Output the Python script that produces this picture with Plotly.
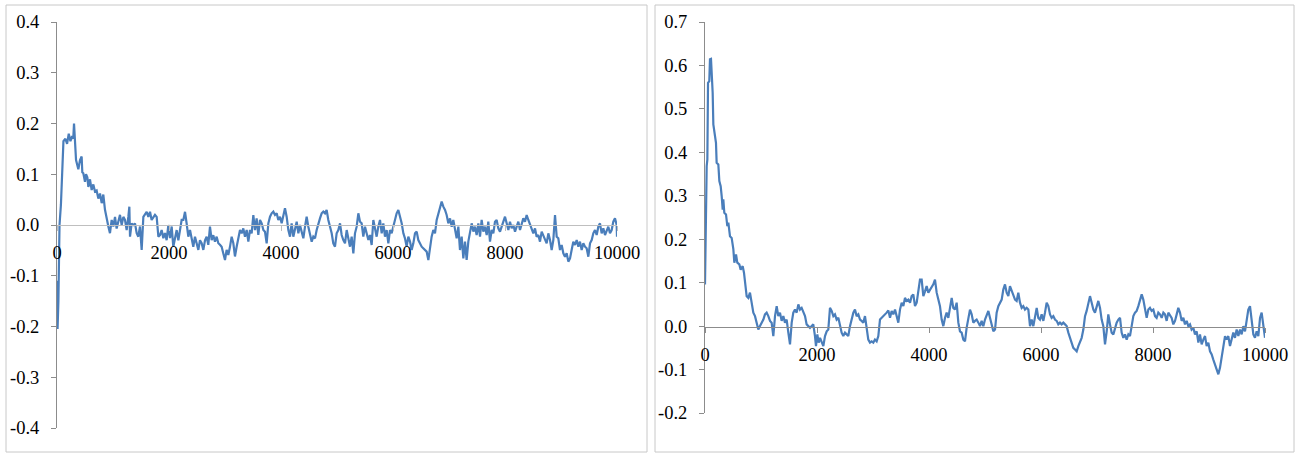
import plotly.graph_objects as go

# ---------------- data ----------------
LEFT_X = [0, 10, 25, 45, 70, 90, 115, 150, 180, 210, 240, 270, 290, 304, 320, 340, 381, 411, 440, 452,
          470, 500, 518, 542, 560, 589, 619, 649, 678, 708, 738, 768, 798, 827, 857, 887, 917, 946, 976, 1006,
          1036, 1065, 1095, 1125, 1155, 1185, 1214, 1244, 1274, 1292, 1304, 1333, 1363, 1393, 1423, 1452, 1482, 1512, 1542, 1571,
          1601, 1631, 1661, 1690, 1720, 1750, 1780, 1810, 1839, 1869, 1899, 1928, 1958, 1988, 2018, 2048, 2077, 2107, 2137, 2167,
          2196, 2226, 2256, 2286, 2315, 2345, 2375, 2405, 2434, 2464, 2494, 2524, 2553, 2583, 2613, 2643, 2672, 2702, 2732, 2762,
          2791, 2821, 2851, 2881, 2910, 2940, 2970, 3000, 3029, 3059, 3089, 3119, 3149, 3178, 3208, 3238,
          3268, 3298, 3327, 3357, 3387, 3417, 3446, 3476, 3506, 3536, 3565, 3595, 3625, 3655, 3685, 3714, 3744, 3774, 3804, 3833,
          3863, 3893, 3923, 3952, 3982, 4012, 4042, 4071, 4101, 4131, 4161, 4190, 4220, 4250, 4280, 4310, 4339, 4369, 4399, 4429,
          4458, 4488, 4518, 4548, 4577, 4607, 4637, 4667, 4696, 4726, 4756, 4786, 4815, 4845, 4875, 4905, 4934, 4964, 4994, 5024,
          5054, 5083, 5113, 5143, 5173, 5202, 5232, 5262, 5292, 5321, 5351, 5381, 5411, 5440, 5470, 5500, 5530, 5560, 5589, 5619,
          5649, 5679, 5708, 5738, 5768, 5798, 5827, 5857, 5887, 5917, 5946, 5976, 6006, 6036, 6065, 6095, 6125, 6155, 6185, 6214,
          6244, 6274, 6304, 6333, 6363, 6393, 6423, 6452, 6512, 6571,
          6601, 6631, 6661, 6690, 6720, 6750, 6780, 6810, 6839, 6869, 6899, 6929, 6958, 6988, 7018, 7048, 7077, 7107, 7137, 7167,
          7196, 7226, 7256, 7286, 7315, 7345, 7375, 7405, 7435, 7464, 7494, 7524, 7554, 7583, 7613, 7643, 7673, 7702, 7732, 7762,
          7792, 7821, 7851, 7881, 7911, 7940, 7970, 8000, 8030, 8060, 8089, 8119, 8149, 8179, 8208, 8238, 8268, 8298, 8327, 8357,
          8387, 8417, 8446, 8476, 8506, 8536, 8565, 8595, 8625, 8655, 8684, 8714, 8744, 8774, 8804, 8833, 8863, 8893, 8923, 8952,
          8982, 9012, 9042, 9071, 9101, 9131, 9161, 9190, 9220, 9250, 9280, 9310, 9339, 9369, 9399, 9429, 9458, 9488, 9518, 9548,
          9577, 9607, 9637, 9667, 9696, 9726, 9756, 9786, 9815, 9845, 9875, 9905, 9934, 9964, 9994, 10000]
LEFT_Y = [-0.11, -0.205, -0.15, 0.0, 0.04, 0.11, 0.165, 0.17, 0.16, 0.18, 0.165, 0.175, 0.17, 0.2, 0.16, 0.128, 0.11, 0.128, 0.135, 0.104,
          0.102, 0.085, 0.1, 0.094, 0.075, 0.09, 0.069, 0.08, 0.066, 0.068, 0.052, 0.062, 0.043, 0.06, 0.03, 0.01, -0.003, -0.016, 0.01, -0.003,
          0.016, -0.007, 0.01, 0.02, 0.0, 0.016, 0.01, -0.01, 0.016, 0.036, -0.023, 0.003, 0.0, 0.003, -0.016, -0.023, -0.003, -0.049, 0.016, 0.02,
          0.026, 0.016, 0.026, 0.01, 0.016, 0.02, 0.016, -0.023, -0.02, -0.01, -0.026, -0.016, -0.03, 0.0, -0.026, -0.003, -0.043, -0.023, -0.01, -0.03,
          -0.01, 0.01, 0.01, 0.026, 0.003, -0.023, -0.01, -0.03, -0.043, -0.023, -0.036, -0.049, -0.03, -0.036, -0.049, -0.03, -0.023, -0.039, -0.003, -0.03,
          -0.02, -0.033, -0.023, -0.036, -0.039, -0.043, -0.056, -0.069, -0.049, -0.059, -0.043, -0.023, -0.036, -0.062, -0.043, -0.023,
          -0.0099, -0.0164, -0.0066, -0.023, -0.0099, -0.0328, -0.0099, -0.0164, 0.0197, -0.0099, 0.0131, -0.0197, 0.0099, 0.0033, -0.0099, -0.0131, -0.0361, 0.0033, 0.0164, 0.023,
          0.0263, 0.0197, 0.023, 0.0099, 0.0164, 0.0033, 0.0164, 0.0329, 0.0164, -0.0099, -0.023, 0.0033, -0.023, -0.0099, 0.0066, -0.0164, 0.0, -0.0131, -0.0263, -0.0033,
          0.0164, -0.0033, -0.0164, -0.0328, -0.023, -0.0263, -0.0099, 0.0033, 0.0131, 0.023, 0.0263, 0.023, 0.0296, 0.0099, -0.0033, -0.0164, -0.0361, -0.0427, -0.0164, -0.0099,
          0.0033, -0.0197, -0.0296, -0.0361, -0.0099, -0.023, -0.0427, -0.023, -0.0558, -0.0164, -0.0033, 0.023, 0.0066, 0.0033, -0.023, -0.0033, -0.0164, -0.0296, -0.0197, -0.0394,
          0.0099, -0.0099, -0.023, -0.0033, 0.0099, -0.0164, 0.0033, -0.023, -0.0099, -0.0361, -0.0099, -0.0164, -0.0033, 0.0099, 0.023, 0.0296, 0.0164, 0.0033, -0.0164, -0.0263,
          -0.0427, -0.023, -0.0328, -0.0493, -0.0361, -0.0164, -0.0131, -0.0296, -0.0427, -0.0493,
          -0.0525, -0.069, -0.0427, -0.023, -0.0099, -0.0164, 0.0099, 0.023, 0.0329, 0.046, 0.0361, 0.0296, 0.0197, 0.0033, 0.0131, -0.0033, 0.0099, -0.0099, -0.0263, -0.0033,
          -0.0493, -0.023, -0.0657, -0.0328, -0.069, -0.0328, -0.0099, 0.0033, -0.0131, -0.0033, -0.0197, 0.0033, -0.023, 0.0099, -0.0131, -0.0033, -0.0197, 0.0066, -0.0328, -0.0099,
          -0.0164, 0.0066, 0.0099, -0.0066, -0.0131, -0.0033, 0.0033, 0.0164, 0.0033, -0.0099, 0.0066, -0.0066, 0.0, -0.0131, -0.0033, 0.0066, -0.0099, 0.0, 0.0131, 0.0066,
          0.0197, 0.0099, 0.0, -0.0066, -0.0164, -0.0066, -0.023, -0.0197, -0.0328, -0.0131, -0.0197, -0.0263, -0.0361, -0.0164, -0.0296, -0.0493, -0.0296, 0.0197, -0.023, -0.0263,
          -0.0493, -0.0394, -0.0558, -0.0624, -0.0558, -0.0722, -0.0657, -0.0493, -0.0328, -0.0394, -0.0296, -0.0427, -0.0328, -0.0493, -0.0361, -0.0427, -0.046, -0.0624, -0.0361, -0.0296,
          -0.0164, -0.0099, -0.0197, -0.0033, 0.0033, -0.0164, -0.0066, -0.0197, -0.0099, -0.0033, -0.0164, -0.0099, 0.0066, 0.0131, 0.0, -0.023]

RIGHT_X = [0, 18, 30, 42, 54, 77, 89, 107, 119, 137, 149, 179, 196, 208, 238, 256, 280, 298, 316, 327,
           345, 375, 399, 417, 446, 476, 506, 524, 554, 577, 613, 637, 673, 696, 714, 744, 774, 803, 833, 863,
           893, 922, 952, 982, 1012, 1042, 1071, 1101, 1131, 1161, 1190, 1220, 1250, 1280, 1309, 1339, 1369, 1399, 1428, 1458,
           1488, 1518, 1548, 1577, 1607, 1637, 1667, 1696, 1726, 1756, 1786, 1815, 1845, 1875, 1905, 1934, 1964, 1982, 2006, 2030,
           2054, 2083, 2113, 2143, 2173, 2202, 2232, 2262, 2292, 2321, 2351, 2381, 2411, 2440, 2470, 2500, 2530, 2559, 2589, 2619,
           2649, 2678, 2708, 2738, 2768, 2797, 2827, 2857, 2887, 2916, 2946, 2976, 3006, 3035, 3065, 3095, 3125, 3155, 3185, 3214,
           3244, 3274, 3304, 3333, 3363, 3393, 3423, 3452, 3482, 3512, 3542, 3571, 3601, 3631, 3661, 3690, 3720, 3750, 3780, 3810,
           3839, 3869, 3899, 3929, 3958, 3988, 4018, 4048, 4077, 4107, 4137, 4167, 4196, 4226, 4256, 4286, 4315, 4345, 4375, 4405,
           4434, 4464, 4494, 4524, 4553, 4583, 4613, 4643, 4672, 4702, 4732, 4762, 4791, 4821, 4851, 4881, 4911, 4940, 4970, 5000,
           5030, 5060, 5089, 5119, 5149, 5179, 5208, 5238, 5268, 5298, 5327, 5357, 5387, 5417, 5446, 5476, 5506, 5536, 5565, 5595,
           5625, 5655, 5684, 5714, 5744, 5774, 5804, 5833, 5863, 5893, 5923, 5952, 5982, 6012, 6042, 6071, 6101, 6131, 6161, 6190,
           6220, 6250, 6280, 6309, 6339, 6369, 6399, 6429, 6458, 6488, 6518, 6548, 6577, 6607, 6637, 6667, 6696, 6726, 6756, 6786,
           6815, 6845, 6875, 6905, 6935, 6964, 6994, 7024, 7054, 7083, 7113, 7143, 7173, 7202, 7232, 7262, 7292, 7321, 7351, 7381,
           7411, 7440, 7470, 7500, 7530, 7560, 7589, 7619, 7649, 7679, 7708, 7738, 7768, 7798, 7827, 7857, 7887, 7917, 7946, 7976,
           8006, 8036, 8065, 8095, 8125, 8155, 8185, 8214, 8244, 8274, 8304, 8333, 8363, 8393, 8423, 8452, 8482, 8512, 8542, 8571,
           8601, 8631, 8661, 8690, 8720, 8750, 8780, 8810, 8839, 8869, 8899, 8929, 8958, 8988, 9018, 9048, 9077, 9107, 9137, 9167,
           9196, 9226, 9256, 9286, 9315, 9345, 9375, 9405, 9434, 9464, 9494, 9524, 9554, 9583, 9613, 9643, 9673, 9702, 9732, 9762,
           9792, 9821, 9851, 9881, 9911, 9940, 9970, 10000]
RIGHT_Y = [0.096, 0.292, 0.368, 0.383, 0.56, 0.564, 0.614, 0.615, 0.591, 0.537, 0.464, 0.437, 0.422, 0.376, 0.372, 0.334, 0.322, 0.299, 0.268, 0.292,
           0.261, 0.257, 0.23, 0.238, 0.207, 0.203, 0.177, 0.146, 0.165, 0.146, 0.142, 0.13, 0.138, 0.123, 0.107, 0.069, 0.065, 0.077, 0.054, 0.031,
           0.023, 0.008, -0.008, 0.0, 0.008, 0.015, 0.027, 0.031, 0.023, 0.012, 0.008, -0.023, 0.023, 0.046, 0.023, 0.031, 0.012, 0.023, 0.008, 0.015,
           -0.015, -0.042, 0.008, 0.031, 0.038, 0.031, 0.05, 0.038, 0.042, 0.031, 0.023, 0.004, 0.0, -0.004, 0.0, 0.004, -0.023, -0.046, -0.019, -0.038,
           -0.027, -0.035, -0.046, -0.023, -0.012, -0.008, 0.042, 0.035, 0.023, 0.027, 0.015, 0.019, 0.0, -0.015, -0.023, -0.015, -0.019, -0.023, 0.0, 0.019,
           0.031, 0.038, 0.023, 0.027, 0.015, 0.012, 0.008, 0.023, -0.008, -0.031, -0.038, -0.035, -0.038, -0.031, -0.035, -0.023, 0.015, 0.019, 0.023, 0.025,
           0.031, 0.036, 0.019, 0.035, 0.027, 0.038, 0.023, 0.008, 0.038, 0.054, 0.046, 0.065, 0.058, 0.061, 0.054, 0.069, 0.073, 0.046, 0.054, 0.084,
           0.107, 0.107, 0.069, 0.08, 0.092, 0.077, 0.084, 0.092, 0.096, 0.107, 0.077, 0.061, 0.046, 0.015, 0.0, 0.019, 0.031, 0.019, 0.046, 0.065,
           0.042, 0.038, 0.054, 0.008, -0.012, -0.015, -0.031, -0.035, -0.004, 0.019, 0.038, 0.027, 0.008, 0.012, 0.015, 0.008, 0.0, 0.012, 0.0, 0.015,
           0.027, 0.035, 0.019, 0.004, -0.012, -0.008, 0.031, 0.046, 0.054, 0.061, 0.084, 0.096, 0.077, 0.069, 0.092, 0.08, 0.073, 0.061, 0.058, 0.077,
           0.054, 0.042, 0.046, 0.038, 0.042, 0.038, 0.0, 0.015, 0.0, 0.027, 0.042, 0.019, 0.015, 0.027, 0.012, 0.031, 0.054, 0.046, 0.027, 0.019,
           0.023, 0.015, 0.012, 0.004, 0.008, 0.004, 0.008, 0.004, 0.0, -0.015, -0.027, -0.035, -0.05, -0.054, -0.058, -0.046, -0.038, -0.027, -0.008, 0.023,
           0.035, 0.054, 0.069, 0.054, 0.038, 0.031, 0.046, 0.058, 0.042, 0.015, 0.0, -0.042, -0.012, 0.027, 0.004, -0.015, -0.019, -0.004, 0.008, 0.015,
           0.019, -0.015, -0.027, -0.019, -0.031, -0.019, -0.023, 0.0, 0.023, 0.031, 0.035, 0.046, 0.061, 0.073, 0.061, 0.038, 0.019, 0.038, 0.042, 0.035,
           0.038, 0.023, 0.019, 0.031, 0.027, 0.019, 0.031, 0.027, 0.012, 0.031, 0.023, 0.019, 0.004, 0.012, 0.027, 0.042, 0.031, 0.012, 0.019, 0.004,
           0.012, 0.0, 0.004, -0.008, -0.004, -0.019, -0.012, -0.038, -0.019, -0.042, -0.031, -0.023, -0.046, -0.038, -0.058, -0.065, -0.077, -0.088, -0.1, -0.111,
           -0.096, -0.073, -0.046, -0.023, -0.031, -0.023, -0.046, -0.031, -0.015, -0.027, -0.008, -0.023, -0.008, -0.019, 0.0, -0.012, 0.015, 0.038, 0.046, 0.019,
           -0.019, -0.027, -0.012, -0.023, 0.019, 0.031, 0.0, -0.027]

X_TICKS = [0, 2000, 4000, 6000, 8000, 10000]
X_TICK_TEXT = ["0", "2000", "4000", "6000", "8000", "10000"]
LEFT_Y_TICKS = [-0.4, -0.3, -0.2, -0.1, 0.0, 0.1, 0.2, 0.3, 0.4]
LEFT_Y_TEXT = ["-0.4", "-0.3", "-0.2", "-0.1", "0.0", "0.1", "0.2", "0.3", "0.4"]
RIGHT_Y_TICKS = [-0.2, -0.1, 0.0, 0.1, 0.2, 0.3, 0.4, 0.5, 0.6, 0.7]
RIGHT_Y_TEXT = ["-0.2", "-0.1", "0.0", "0.1", "0.2", "0.3", "0.4", "0.5", "0.6", "0.7"]

# ---------------- layout ----------------
W, H = 1309, 453
LINE_COLOR = "#4a7ebb"
FONT = dict(family="Liberation Serif, Times New Roman, serif", size=18.5, color="#000000")


def px_x(p):
    return p / W


def px_y(p):
    return 1 - p / H


fig = go.Figure()
fig.add_trace(go.Scatter(x=LEFT_X, y=LEFT_Y, mode="lines", line=dict(color=LINE_COLOR, width=2.2),
                         xaxis="x", yaxis="y", showlegend=False, hoverinfo="skip"))
fig.add_trace(go.Scatter(x=RIGHT_X, y=RIGHT_Y, mode="lines", line=dict(color=LINE_COLOR, width=2.2),
                         xaxis="x2", yaxis="y2", showlegend=False, hoverinfo="skip"))

common_x = dict(range=[0, 10000], tickvals=X_TICKS, ticktext=X_TICK_TEXT, showgrid=False, zeroline=False,
                showline=True, ticks="outside", ticklen=5, tickfont=FONT, anchor="free", ticklabelstandoff=6,
                automargin=False)
common_y = dict(showgrid=False, zeroline=False, showline=True, ticks="outside", ticklen=5,
                tickfont=FONT, ticklabelstandoff=8, linecolor="#8c8c8c", tickcolor="#8c8c8c", linewidth=1,
                automargin=False)

fig.update_layout(
    width=W, height=H, margin=dict(l=0, r=0, t=0, b=0, autoexpand=False),
    paper_bgcolor="white", plot_bgcolor="rgba(0,0,0,0)", font=FONT,
    xaxis=dict(domain=[px_x(57), px_x(617)], position=px_y(225), linecolor="#bfbfbf", tickcolor="#bfbfbf",
               **common_x),
    yaxis=dict(domain=[px_y(428), px_y(22)], range=[-0.4, 0.4], tickvals=LEFT_Y_TICKS, ticktext=LEFT_Y_TEXT,
               anchor="x", **common_y),
    xaxis2=dict(domain=[px_x(705), px_x(1265)], position=px_y(326.6), linecolor="#8c8c8c", tickcolor="#8c8c8c",
                **common_x),
    yaxis2=dict(domain=[px_y(413), px_y(22)], range=[-0.2, 0.7], tickvals=RIGHT_Y_TICKS, ticktext=RIGHT_Y_TEXT,
                anchor="x2", **common_y),
    shapes=[
        dict(type="rect", xref="paper", yref="paper", x0=px_x(6), x1=px_x(647), y0=px_y(452), y1=px_y(5),
             line=dict(color="#c8c8c8", width=1), fillcolor="rgba(0,0,0,0)", layer="below"),
        dict(type="rect", xref="paper", yref="paper", x0=px_x(655), x1=px_x(1294), y0=px_y(452), y1=px_y(5),
             line=dict(color="#c8c8c8", width=1), fillcolor="rgba(0,0,0,0)", layer="below"),
    ],
)

fig.write_html("out.html", config={"displayModeBar": False},
               post_script="document.body.style.margin='0';document.body.style.overflow='hidden';")
